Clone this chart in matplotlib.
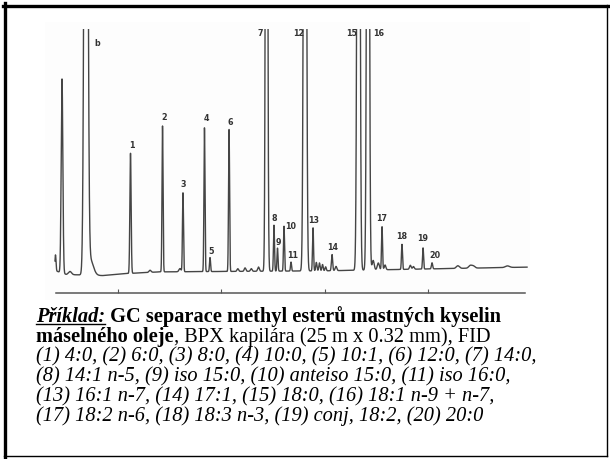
import numpy as np
import matplotlib
matplotlib.use("Agg")
import matplotlib.pyplot as plt
from matplotlib.lines import Line2D
from matplotlib.patches import Rectangle

W, H = 610, 459
FS = 14.7
SERIF = "Liberation Serif"

# retention times (min) of the peaks
peak_time = [3.95, 4.58, 5.35, 6.90, 7.30, 11.21, 13.1, 14.31, 16.0, 16.29, 18.37, 18.91,
             20.75, 21.6, 22.3, 22.9, 23.6, 24.38, 25.10, 25.44, 26.07, 26.75, 28.10,
             28.88, 29.20, 29.50, 29.80, 30.10, 30.72, 31.10, 33.28, 34.20, 34.70,
             35.20, 35.56, 35.85, 37.49, 38.30, 38.60, 39.53, 40.40, 42.9, 44.1, 44.4, 47.7]
# peak amplitude above baseline (relative units, 100 = top of the plot)
peak_amp = [6.0, 73.5, 1.2, 400, 6.0, 45.5, 0.8, 55.3, 1.2, 29.9, 54.5, 5.3,
            53.8, 1.0, 1.3, 1.0, 1.6, 400, 17.4, 8.7, 17.0, 3.4, 400,
            16.3, 3.2, 3.0, 2.4, 1.5, 6.1, 1.6, 400, 400, 3.6,
            2.6, 16.3, 1.8, 9.5, 1.5, 1.0, 8.0, 2.3, 1.0, 1.0, 0.8, 0.6]
peak_sigma = [0.05, 0.08, 0.15, 0.14, 0.30, 0.06, 0.1, 0.05, 0.1, 0.05, 0.05, 0.05,
              0.05, 0.08, 0.08, 0.08, 0.08, 0.085, 0.05, 0.05, 0.05, 0.05, 0.11,
              0.05, 0.06, 0.06, 0.06, 0.06, 0.06, 0.08, 0.11, 0.10, 0.10,
              0.10, 0.05, 0.08, 0.05, 0.08, 0.08, 0.05, 0.06, 0.15, 0.15, 0.15, 0.2]

# baseline drift
base_time = [3.9, 5.0, 8.5, 10.5, 14.0, 30.0, 49.6]
base_level = [8.5, 7.0, 6.6, 7.3, 8.0, 8.4, 9.8]

# labelled peaks
label_text = ["b", "1", "2", "3", "4", "5", "6", "7", "8", "9", "10", "11", "12",
              "13", "14", "15", "16", "17", "18", "19", "20"]
label_peak = [6.90, 11.21, 14.31, 16.29, 18.37, 18.91, 20.75, 24.38, 25.10, 25.44, 26.07,
              26.75, 28.10, 28.88, 30.72, 33.28, 34.20, 35.56, 37.49, 39.53, 40.40]
label_off = [(11, -14), (1.5, 8), (1.5, 8), (0, 8), (1.5, 9), (1, 6), (1, 7), (-6.5, -4),
             (0, 7), (0.5, 6), (7, 0), (2, 7), (-6, -4), (1, 7), (1, 7), (-7, -4),
             (11, -4), (0, 8), (0, 8), (0, 9), (3, 7)]

tick_times = [10, 20, 30, 40]

caption = [
    [("Příklad:", "bold", "italic", True), (" GC separace methyl esterů mastných kyselin", "bold", "normal", False)],
    [("máselného oleje", "bold", "normal", False), (", BPX kapilára (25 m x 0.32 mm), FID", "normal", "normal", False)],
    [("(1) 4:0, (2) 6:0, (3) 8:0, (4) 10:0, (5) 10:1, (6) 12:0, (7) 14:0,", "normal", "italic", False)],
    [("(8) 14:1 n-5, (9) iso 15:0, (10) anteiso 15:0, (11) iso 16:0,", "normal", "italic", False)],
    [("(13) 16:1 n-7, (14) 17:1, (15) 18:0, (16) 18:1 n-9 + n-7,", "normal", "italic", False)],
    [("(17) 18:2 n-6, (18) 18:3 n-3, (19) conj, 18:2, (20) 20:0", "normal", "italic", False)],
]

fig = plt.figure(figsize=(W / 100, H / 100), dpi=100)
fig.patch.set_facecolor("white")

# faint scan background of the chromatogram
fig.add_artist(Rectangle((45 / W, 1 - 300 / H), 485 / W, 278 / H, transform=fig.transFigure,
                         facecolor="#fdfdfd", edgecolor="none", zorder=0))

# frame
fig.add_artist(Line2D([4.5 / W, 4.5 / W], [1 - 3 / H, 1 - 457 / H], color="black", lw=2.4))
fig.add_artist(Line2D([3 / W, 608 / W], [1 - 5.5 / H, 1 - 5.5 / H], color="black", lw=2.4))
fig.add_artist(Line2D([607 / W, 607 / W], [1 - 5 / H, 1 - 456 / H], color="black", lw=1.0))
fig.add_artist(Line2D([4 / W, 607 / W], [1 - 456 / H, 1 - 456 / H], color="black", lw=1.0))

# chromatogram axes: px 45..530 horizontally, px 29..300 vertically
px_per_min = 10.33
px_per_unit = 2.64
x_left = 10 + (45 - 118) / px_per_min
x_right = 10 + (530 - 118) / px_per_min
y_top = (293 - 29) / px_per_unit
y_bot = (293 - 300) / px_per_unit
ax = fig.add_axes([45 / W, 1 - 300 / H, 485 / W, 271 / H])
ax.set_xlim(x_left, x_right)
ax.set_ylim(y_bot, y_top)
ax.patch.set_alpha(0)

t = np.arange(3.9, 49.6, 0.004)
signal = np.interp(t, base_time, base_level)
for tp, a, s in zip(peak_time, peak_amp, peak_sigma):
    signal = signal + a * np.exp(-0.5 * ((t - tp) / s) ** 2)
ax.plot(t, signal, color="#454545", lw=1.0)

for txt, tp, (dx, dy) in zip(label_text, label_peak, label_off):
    i = np.argmin(np.abs(t - tp))
    top = min(signal[i], y_top)
    ax.annotate(txt, (tp, top), xytext=(dx, dy), textcoords="offset pixels",
                ha="center", va="center", fontsize=5.8, fontweight="bold", color="#333333",
                annotation_clip=False)

for side in ["top", "left", "right"]:
    ax.spines[side].set_visible(False)
ax.spines["bottom"].set_position(("data", 0))
ax.spines["bottom"].set_bounds(4.0, 49.4)
ax.spines["bottom"].set_color("#555555")
ax.spines["bottom"].set_linewidth(1.1)
ax.set_xticks(tick_times)
ax.tick_params(axis="x", direction="in", length=3, width=0.8, color="#555555", labelbottom=False)
ax.set_yticks([])

# caption, several styles in one line
renderer = fig.canvas.get_renderer()
y0, step = 322, 19.9
for n, runs in enumerate(caption):
    x = 36
    yb = y0 + n * step
    for txt, weight, style, underline in runs:
        tx = fig.text(x / W, 1 - yb / H, txt, fontsize=FS, family=SERIF, fontweight=weight,
                      fontstyle=style, va="baseline", ha="left", color="black")
        bb = tx.get_window_extent(renderer)
        if underline:
            fig.add_artist(Line2D([bb.x0 / W, bb.x1 / W], [1 - (yb + 2) / H, 1 - (yb + 2) / H],
                                  color="black", lw=1.0))
        x = bb.x1

fig.savefig("out.png", dpi=100)
